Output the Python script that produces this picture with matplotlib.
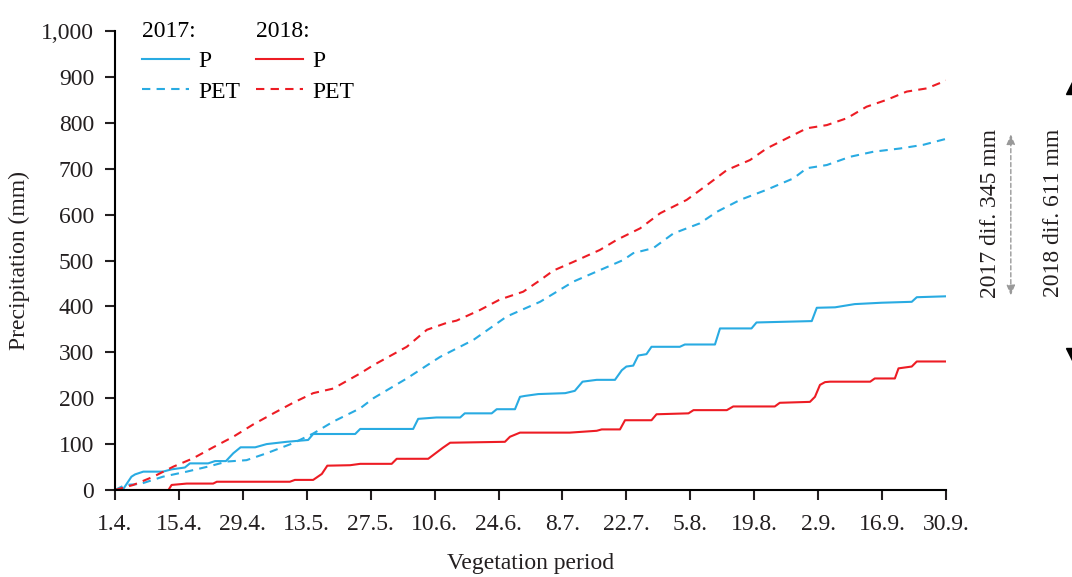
import numpy as np
import matplotlib.pyplot as plt
from matplotlib.ticker import StrMethodFormatter

plt.rcParams['font.family'] = ['Liberation Serif', 'DejaVu Serif']

# days since 1.4.
tick_labels = ['1.4.', '15.4.', '29.4.', '13.5.', '27.5.', '10.6.', '24.6.',
               '8.7.', '22.7.', '5.8.', '19.8.', '2.9.', '16.9.', '30.9.']

# 2017 cumulative precipitation (mm)
p17_day = [0, 1.8, 3.6, 4.4, 6.2, 10.5, 12.4, 15.3, 16.4, 20.4, 21.9, 24.3, 25.9, 27.5,
           30.7, 33.2, 37.6, 42.3, 43.4, 52.6, 53.7, 65.3, 66.4, 70.4, 75.6, 76.6,
           82.5, 83.6, 87.6, 88.7, 89.8, 92.7, 98.6, 100.7, 102.4, 105.5, 109.5, 111,
           112, 113.5, 114.6, 116.4, 117.5, 123.7, 124.8, 131.4, 132.5, 139.4, 140.5,
           152.6, 153.7, 157.7, 162, 167.9, 174.5, 175.6, 182]
p17 = [0, 2, 29, 34, 40, 40, 45, 49, 58, 58, 63, 63, 80, 93,
       93, 100, 105, 109, 122, 122, 133, 133, 155, 158, 158, 167,
       167, 176, 176, 203, 205, 209, 211, 216, 236, 240, 240, 261,
       269, 271, 293, 296, 312, 312, 317, 317, 352, 352, 365,
       368, 397, 398, 405, 408, 410, 420, 422]

# 2018 cumulative precipitation (mm)
p18_day = [0, 11.7, 12.4, 15.7, 21.5, 22.3, 38.3, 39.4, 43.4, 45.3, 46.5, 51.5, 53.7,
           60.6, 61.7, 68.6, 71.8, 73.4, 85.4, 86.5, 88.7, 99.6, 105.5, 106.6, 110.6,
           111.7, 117.5, 118.6, 125.6, 126.7, 134, 135.4, 144.5, 145.6, 152.2, 153.3,
           154.4, 155.5, 156.6, 165.4, 166.4, 170.8, 171.6, 174.5, 175.6, 182]
p18 = [0, 0, 11, 14, 14, 18, 18, 22, 22, 35, 53, 54, 57,
       57, 68, 68, 92, 103, 105, 116, 125, 125, 129, 132, 132,
       152, 152, 165, 167, 174, 174, 182, 182, 190, 192, 203,
       229, 235, 236, 236, 243, 243, 265, 269, 280, 280]

# 2017 cumulative PET (mm)
pet17_day = [0, 2.2, 5.5, 10.5, 15.7, 20.8, 24.5, 28.8, 33.2, 39, 43.4, 47.8, 53.7,
             56.6, 63.9, 71.2, 78.5, 85.8, 93.1, 100.4, 106.2, 111.3, 113.5, 117.9,
             122.3, 128.1, 131.8, 136.9, 142.7, 148.6, 151.5, 155.9, 161, 166.1,
             171.9, 177, 182]
pet17 = [0, 11, 13, 29, 40, 52, 62, 65, 80, 102, 123, 149, 178,
         200, 243, 290, 327, 378, 410, 454, 479, 501, 516, 527,
         559, 581, 606, 632, 654, 679, 701, 708, 726, 737,
         744, 752, 765]

# 2018 cumulative PET (mm)
pet18_day = [0, 4, 8.4, 12.8, 17.1, 21.5, 25.9, 30.3, 34.7, 39, 43.4, 45.6, 47.8,
             53.7, 56.6, 63.9, 68.3, 72.6, 74.8, 79.9, 84.3, 89.4, 93.1, 96, 100.4,
             106.2, 109.9, 115, 119.4, 125.2, 129.6, 134, 139.1, 142.7, 147.1, 151.5,
             155.9, 160.3, 164.6, 169, 173.4, 177.8, 182]
pet18 = [0, 11, 29, 51, 69, 93, 116, 143, 167, 190, 211, 216, 221,
         254, 272, 312, 349, 364, 369, 392, 415, 432, 457, 478, 497,
         523, 545, 570, 603, 632, 664, 697, 719, 744, 766, 788,
         795, 810, 835, 850, 868, 875, 892]

blue = '#29abe2'
red = '#ed1c24'
ink = '#231f20'
fs = 17

fig = plt.figure(figsize=(10.72, 5.77), dpi=100)
ax = fig.add_axes([115/1072, 1-490/577, 831/1072, 459/577])

l1, = ax.plot(p17_day, p17, color=blue, lw=1.5, label='P')
l2, = ax.plot(pet17_day, pet17, color=blue, lw=1.5, ls=(0, (4, 3)), label='PET')
l3, = ax.plot(p18_day, p18, color=red, lw=1.5, label='P')
l4, = ax.plot(pet18_day, pet18, color=red, lw=1.5, ls=(0, (4, 3)), label='PET')

ax.set_xlim(0, 182)
ax.set_ylim(0, 1000)
ax.set_xticks(np.arange(0, 183, 14))
ax.set_xticklabels(tick_labels)
ax.set_yticks(np.arange(0, 1001, 100))
ax.yaxis.set_major_formatter(StrMethodFormatter('{x:,.0f}'))
for s in ['top', 'right']:
    ax.spines[s].set_visible(False)
for s in ['left', 'bottom']:
    ax.spines[s].set_linewidth(1.5)
ax.tick_params(direction='out', length=7, width=1.5, labelsize=fs, colors=ink)
ax.tick_params(axis='x', pad=10)
ax.tick_params(axis='y', pad=8)
ax.set_xlabel('Vegetation period', fontsize=fs, labelpad=13, color=ink)
ax.set_ylabel('Precipitation (mm)', fontsize=fs, labelpad=8, color=ink)

# legends: one per year
kw = dict(loc='upper left', frameon=False, fontsize=fs, title_fontsize=fs,
          handlelength=2.0, handletextpad=0.4, labelspacing=0.37,
          borderpad=0, borderaxespad=0)
leg1 = ax.legend(handles=[l1, l2], title='2017:',
                 bbox_to_anchor=(142/1072, 1-21/577), bbox_transform=fig.transFigure, **kw)
leg1._legend_box.align = 'left'
ax.add_artist(leg1)
leg2 = ax.legend(handles=[l3, l4], title='2018:',
                 bbox_to_anchor=(256/1072, 1-21/577), bbox_transform=fig.transFigure, **kw)
leg2._legend_box.align = 'left'

# differences at the end of the period
for y0, y1 in [(pet17[-1], p17[-1] + 2), (p17[-1], pet17[-1] + 10)]:
    ax.annotate('', xy=(1.078, y1), xytext=(1.078, (y0 + y1) / 2),
                xycoords=('axes fraction', 'data'), textcoords=('axes fraction', 'data'),
                arrowprops=dict(arrowstyle='-|>,head_length=0.6,head_width=0.25',
                                color='#999999', lw=1, ls=(0, (3, 2)),
                                shrinkA=0, shrinkB=0))
ax.text(1.054, 0.603, '2017 dif. 345 mm', rotation=90,
        transform=ax.transAxes, ha='center', va='center', fontsize=fs, color=ink)
ax.text(1.129, 0.603, '2018 dif. 611 mm', rotation=90,
        transform=ax.transAxes, ha='center', va='center', fontsize=fs, color=ink)
ax.plot([1.154], [pet18[-1] - 12], marker='^', ms=12, color='black',
        transform=ax.get_yaxis_transform(), clip_on=False)
ax.plot([1.154], [p18[-1] + 12], marker='v', ms=12, color='black',
        transform=ax.get_yaxis_transform(), clip_on=False)

fig.savefig('out.png', dpi=100)
